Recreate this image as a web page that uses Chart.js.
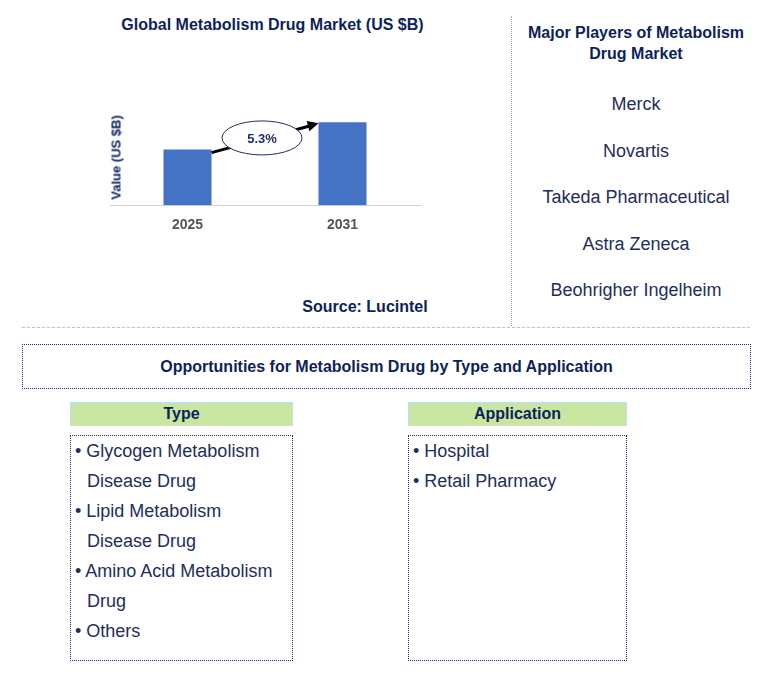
<!DOCTYPE html>
<html><head><meta charset="utf-8">
<script src="https://cdn.jsdelivr.net/npm/chart.js@4"></script>
<style>
body{margin:0;width:771px;height:679px;position:relative;font-family:Arial,"Liberation Sans",sans-serif;background:#fff;color:#1f2d5c}
.abs{position:absolute}
.t{font-weight:bold;color:#0d1f5c;text-align:center}
.p{font-size:18px;color:#1f2d5c;text-align:center;width:250px;left:511px}
.box{border:1px dotted #1f2d5c;box-sizing:border-box}
.hd{background:#c8e6a0;border:1px solid #bfe0f0;box-sizing:border-box;text-align:center;font-weight:bold;font-size:16px;color:#0d1f5c;line-height:22px}
ul{list-style:none;margin:0;padding:0 14px 0 2px;font-size:18px;line-height:30px;color:#1f2d5c}
li{padding-left:14px;text-indent:-12px}
</style></head><body>
<div class="abs t" style="left:100px;top:16px;width:345px;font-size:16px">Global Metabolism Drug Market (US $B)</div>
<div class="abs" style="left:94px;top:93px;width:336px;height:145px"><canvas id="c"></canvas></div>
<div class="abs t" style="left:56px;top:150px;width:120px;font-size:13px;transform:rotate(-90deg);transform-origin:center;color:#0d1f5c">Value (US $B)</div>
<div class="abs t" style="left:280px;top:298px;width:170px;font-size:16px">Source: Lucintel</div>
<div class="abs" style="left:511px;top:16px;height:310px;border-left:1px dotted #aaa"></div>
<div class="abs t" style="left:516px;top:22px;width:240px;font-size:16px;line-height:21px">Major Players of Metabolism Drug Market</div>
<div id="players"></div>
<div class="abs" style="left:22px;top:327px;width:728px;border-top:1px dashed #f0c040"></div>
<div class="abs box t" style="left:22px;top:344px;width:729px;height:45px;line-height:43px;font-size:16px">Opportunities for Metabolism Drug by Type and Application</div>
<div class="abs hd" style="left:70px;top:402px;width:223px;height:24px">Type</div>
<div class="abs hd" style="left:408px;top:402px;width:219px;height:24px">Application</div>
<div class="abs box" style="left:70px;top:435px;width:223px;height:226px"><ul id="types"></ul></div>
<div class="abs box" style="left:408px;top:435px;width:219px;height:226px"><ul id="apps"></ul></div>
<script>
const years = ['2025', '2031'];
const values = [5.7, 8.5];
const cagr = '5.3%';
const players = ['Merck', 'Novartis', 'Takeda Pharmaceutical', 'Astra Zeneca', 'Beohrigher Ingelheim'];
const types = ['Glycogen Metabolism Disease Drug', 'Lipid Metabolism Disease Drug', 'Amino Acid Metabolism Drug', 'Others'];
const apps = ['Hospital', 'Retail Pharmacy'];

players.forEach((p, i) => {
  const d = document.createElement('div');
  d.className = 'abs p';
  d.style.top = (94 + i * 46.5) + 'px';
  d.textContent = p;
  document.body.appendChild(d);
});
const fill = (id, arr) => arr.forEach(s => {
  const li = document.createElement('li');
  li.textContent = '• ' + s;
  document.getElementById(id).appendChild(li);
});
fill('types', types);
fill('apps', apps);

// flecha y elipse del CAGR
const flecha = {
  id: 'flecha',
  afterDatasetsDraw(chart) {
    const bars = chart.getDatasetMeta(0).data;
    const ctx = chart.ctx;
    const x1 = bars[0].x + bars[0].width / 2, y1 = bars[0].y + 3;
    const x2 = bars[1].x - bars[1].width / 2, y2 = bars[1].y + 1;
    ctx.save();
    ctx.strokeStyle = '#000'; ctx.fillStyle = '#000'; ctx.lineWidth = 3;
    ctx.beginPath(); ctx.moveTo(x1, y1); ctx.lineTo(x2 - 8, y2 + 2.5); ctx.stroke();
    const a = Math.atan2(y2 - y1, x2 - x1);
    ctx.beginPath(); ctx.moveTo(x2, y2);
    ctx.lineTo(x2 - 12 * Math.cos(a - 0.45), y2 - 12 * Math.sin(a - 0.45));
    ctx.lineTo(x2 - 12 * Math.cos(a + 0.45), y2 - 12 * Math.sin(a + 0.45));
    ctx.fill();
    const cx = (x1 + x2) / 2 - 3, cy = (y1 + y2) / 2;
    ctx.beginPath(); ctx.ellipse(cx, cy, 40, 17, 0, 0, Math.PI * 2);
    ctx.fillStyle = '#fff'; ctx.fill();
    ctx.lineWidth = 1; ctx.strokeStyle = '#1f2d5c'; ctx.stroke();
    ctx.fillStyle = '#1f2d5c'; ctx.font = 'bold 13px Arial';
    ctx.textAlign = 'center'; ctx.textBaseline = 'middle';
    ctx.fillText(cagr, cx, cy + 1);
    ctx.restore();
  }
};

new Chart(document.getElementById('c'), {
  type: 'bar',
  data: { labels: years, datasets: [{ data: values, backgroundColor: '#4472c4', barPercentage: 0.31, categoryPercentage: 1 }] },
  options: {
    responsive: true, maintainAspectRatio: false, animation: false,
    layout: { padding: { top: 0, right: 10, left: 8 } },
    plugins: { legend: { display: false }, tooltip: { enabled: false } },
    scales: {
      x: { grid: { display: false }, border: { color: '#d0d0d0' },
           ticks: { color: '#555', font: { size: 14, weight: 'bold' }, padding: 4 } },
      y: { min: 0, max: 11.5, grid: { display: false }, border: { display: false },
           ticks: { display: false } }
    }
  },
  plugins: [flecha]
});
</script>
</body></html>
